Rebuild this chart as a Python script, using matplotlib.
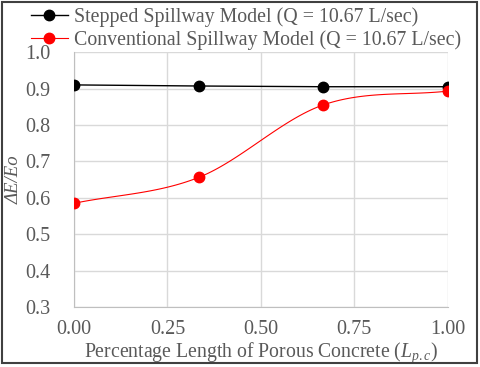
import numpy as np
import matplotlib
matplotlib.use("Agg")
import matplotlib.pyplot as plt
from matplotlib.patches import Rectangle

plt.rcParams['font.family'] = ['Liberation Serif', 'DejaVu Serif']
plt.rcParams['mathtext.fontset'] = 'custom'
plt.rcParams['mathtext.rm'] = 'Liberation Serif'
plt.rcParams['mathtext.it'] = 'Liberation Serif:italic'

# --- Data ---
x_vals = [0.0, 1 / 3, 2 / 3, 1.0]
stepped = [0.910, 0.907, 0.905, 0.905]
conventional = [0.585, 0.656, 0.855, 0.893]
labels = ["Stepped Spillway Model (Q = 10.67 L/sec)",
          "Conventional Spillway Model (Q = 10.67 L/sec)"]
x_ticks = [0.0, 0.25, 0.5, 0.75, 1.0]
y_ticks = [0.3, 0.4, 0.5, 0.6, 0.7, 0.8, 0.9, 1.0]

TEXT = '#595959'
GRID = '#d9d9d9'
FS = 14.5


def smooth(xs, ys, n=40):
    """Catmull-Rom curve through the points (like Excel's smoothed line)."""
    xs = np.asarray(xs)
    ys = np.asarray(ys)
    px = np.concatenate([[2 * xs[0] - xs[1]], xs, [2 * xs[-1] - xs[-2]]])
    py = np.concatenate([[2 * ys[0] - ys[1]], ys, [2 * ys[-1] - ys[-2]]])
    out_x, out_y = [], []
    t = np.linspace(0, 1, n)
    for i in range(1, len(px) - 2):
        for p, out in ((px, out_x), (py, out_y)):
            p0, p1, p2, p3 = p[i - 1], p[i], p[i + 1], p[i + 2]
            seg = 0.5 * ((2 * p1) + (-p0 + p2) * t
                         + (2 * p0 - 5 * p1 + 4 * p2 - p3) * t ** 2
                         + (-p0 + 3 * p1 - 3 * p2 + p3) * t ** 3)
            out.extend(seg)
    return np.array(out_x), np.array(out_y)


fig = plt.figure(figsize=(4.8, 3.67), dpi=100)
ax = fig.add_axes([0.154, 0.163, 0.779, 0.695])

ax.plot(x_vals, stepped, color='black', lw=1.0, marker='o', ms=7.5,
        label=labels[0], zorder=4)
sx, sy = smooth(x_vals, conventional)
ax.plot(sx, sy, color='red', lw=0.8, zorder=3)
ax.plot(x_vals, conventional, color='red', lw=0, marker='o', ms=7.5, zorder=5)
# legend handle for the red series
ax.plot([], [], color='red', lw=0.8, marker='o', ms=7.5, label=labels[1])

ax.set_xlim(0, 1)
ax.set_ylim(0.3, 1.0)
ax.set_xticks(x_ticks)
ax.set_yticks(y_ticks)
ax.set_xticklabels([f"{v:.2f}" for v in x_ticks])
ax.set_yticklabels([f"{v:.1f}" for v in y_ticks])
ax.grid(True, color=GRID, lw=1.0)
ax.set_axisbelow(True)
for s in ax.spines.values():
    s.set_visible(False)
ax.spines['left'].set_visible(True)
ax.spines['left'].set_color('#bfbfbf')
ax.spines['bottom'].set_visible(True)
ax.spines['bottom'].set_color('#bfbfbf')
ax.tick_params(length=0, labelsize=FS, labelcolor=TEXT)
ax.tick_params(axis='y', pad=17)
ax.tick_params(axis='x', pad=9)
for lab in ax.get_xticklabels() + ax.get_yticklabels():
    lab.set_clip_on(False)

ax.set_xlabel(r"Percentage Length of Porous Concrete ($L_{p.c}$)",
              fontsize=14.2, color=TEXT, labelpad=1)
ax.set_ylabel("ΔE/Eo", fontsize=13.5, fontstyle='italic', color=TEXT)
ax.yaxis.set_label_coords(-0.136, 0.5)

leg = ax.legend(loc='lower left', bbox_to_anchor=(-0.115, 1.01), frameon=False,
                fontsize=14.3, labelcolor=TEXT, handlelength=1.86,
                handletextpad=0.3, labelspacing=0.12, borderaxespad=0,
                borderpad=0)

# outer frame
fig.patches.append(Rectangle((0.005, 0.01), 0.988, 0.985, transform=fig.transFigure,
                             fill=False, edgecolor='#404040', lw=1.5))

fig.savefig('out.png', dpi=100)
